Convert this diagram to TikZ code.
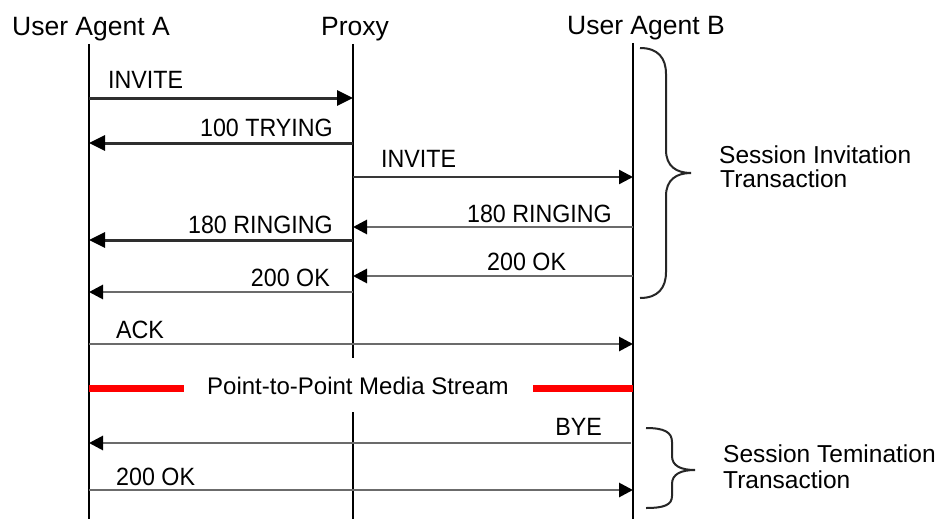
\documentclass[tikz,border=0pt]{standalone}
\usepackage{fontspec}
\setmainfont{Liberation Sans}
\newfontfamily\condfont[FakeStretch=0.93]{Liberation Sans}
\usetikzlibrary{arrows.meta}
\begin{document}
\begin{tikzpicture}[x=1pt,y=-1pt,
  life/.style={line width=1.6pt,draw=black},
  msgdark/.style={line width=3pt,draw=black!82,-{Triangle[length=16pt,width=15pt,color=black]}},
  msgthin/.style={line width=2.4pt,draw=black!78,-{Triangle[length=14pt,width=14pt,color=black]}},
  msggrey/.style={line width=2.8pt,draw=black!58,-{Triangle[length=14pt,width=14pt,color=black]}},
  lbl/.style={inner sep=0pt,font=\condfont\fontsize{25}{28}\selectfont},
  hdr/.style={inner sep=0pt,anchor=base west,font=\fontsize{26.5}{32}\selectfont},
  note/.style={inner sep=0pt,anchor=base west,font=\fontsize{24.5}{28}\selectfont},
  bracestyle/.style={line width=2pt,draw=black!85},
  media/.style={line width=7pt,draw=red}]
\useasboundingbox (0,0) rectangle (944,519);
\fill[white] (0,0) rectangle (944,519);

% headers
\node[hdr] (hA) at (12,36) {User Agent A};
\node[hdr] (hP) at (321,36) {Proxy};
\node[hdr] (hB) at (567,35) {User Agent B};

% lifelines
\coordinate (Atop) at (89,44);   \coordinate (Abot) at (89,519);
\coordinate (Ptop) at (353,44);  \coordinate (Pbot) at (353,519);
\coordinate (Pg1) at (353,358);  \coordinate (Pg2) at (353,412);
\coordinate (Btop) at (633,43);  \coordinate (Bbot) at (633,519);
\draw[life] (Atop) -- (Abot);
\draw[life] (Ptop) -- (Pg1);
\draw[life] (Pg2) -- (Pbot);
\draw[life] (Btop) -- (Bbot);

% message end points
\coordinate (a1) at (89,98);   \coordinate (p1) at (353,98);
\coordinate (p2) at (353,143); \coordinate (a2) at (89,143);
\coordinate (p3) at (353,177); \coordinate (b3) at (633,177);
\coordinate (b4) at (633,227); \coordinate (p4) at (353,227);
\coordinate (p5) at (353,240); \coordinate (a5) at (89,240);
\coordinate (b6) at (633,276); \coordinate (p6) at (353,276);
\coordinate (p7) at (353,292); \coordinate (a7) at (89,292);
\coordinate (a8) at (89,344);  \coordinate (b8) at (633,344);
\coordinate (b9) at (631,443); \coordinate (a9) at (89,443);
\coordinate (a10) at (89,490); \coordinate (b10) at (633,490);

\draw[msgdark] (a1) -- (p1);
\draw[msgdark] (p2) -- (a2);
\draw[msgthin] (p3) -- (b3);
\draw[msggrey] (b4) -- (p4);
\draw[msgdark] (p5) -- (a5);
\draw[msggrey] (b6) -- (p6);
\draw[msggrey] (p7) -- (a7);
\draw[msggrey] (a8) -- (b8);
\draw[msggrey] (b9) -- (a9);
\draw[msggrey] (a10) -- (b10);

% labels
\node[lbl,anchor=base west] (l1) at (108,88) {INVITE};
\node[lbl,anchor=base east] (l2) at (333,136) {100 TRYING};
\node[lbl,anchor=base west] (l3) at (381,167) {INVITE};
\node[lbl,anchor=base east] (l4) at (612,222) {180 RINGING};
\node[lbl,anchor=base east] (l5) at (333,233) {180 RINGING};
\node[lbl,anchor=base west] (l6) at (487,270) {200 OK};
\node[lbl,anchor=base east] (l7) at (330,286) {200 OK};
\node[lbl,anchor=base west] (l8) at (116,338) {ACK};
\node[lbl,anchor=base east] (l9) at (602,435) {BYE};
\node[lbl,anchor=base west] (l10) at (116,485) {200 OK};

% media stream
\coordinate (m1) at (89,388);  \coordinate (m2) at (184,388);
\coordinate (m3) at (533,388); \coordinate (m4) at (633,388);
\draw[media] (m1) -- (m2);
\draw[media] (m3) -- (m4);
\node[note,font=\fontsize{24}{28}\selectfont] (ms) at (207,394) {Point-to-Point Media Stream};

% braces
\draw[bracestyle] (640,48) .. controls (658,48) and (666,58) .. (666,74)
  -- (666,150) .. controls (666,166) and (676,173) .. (691,173)
  .. controls (676,173) and (666,180) .. (666,196)
  -- (666,272) .. controls (666,288) and (658,298) .. (640,298);
\draw[bracestyle] (646,428) .. controls (664,428) and (672,432) .. (672,442)
  -- (672,456) .. controls (672,466) and (681,470) .. (695,470)
  .. controls (681,470) and (672,474) .. (672,484)
  -- (672,496) .. controls (672,505) and (664,508) .. (646,508);

% brace notes
\node[note] (s1a) at (719,163) {Session Invitation};
\node[note] (s1b) at (720,187) {Transaction};
\node[note] (s2a) at (723,462) {Session Temination};
\node[note] (s2b) at (723,488) {Transaction};
\end{tikzpicture}
\end{document}
